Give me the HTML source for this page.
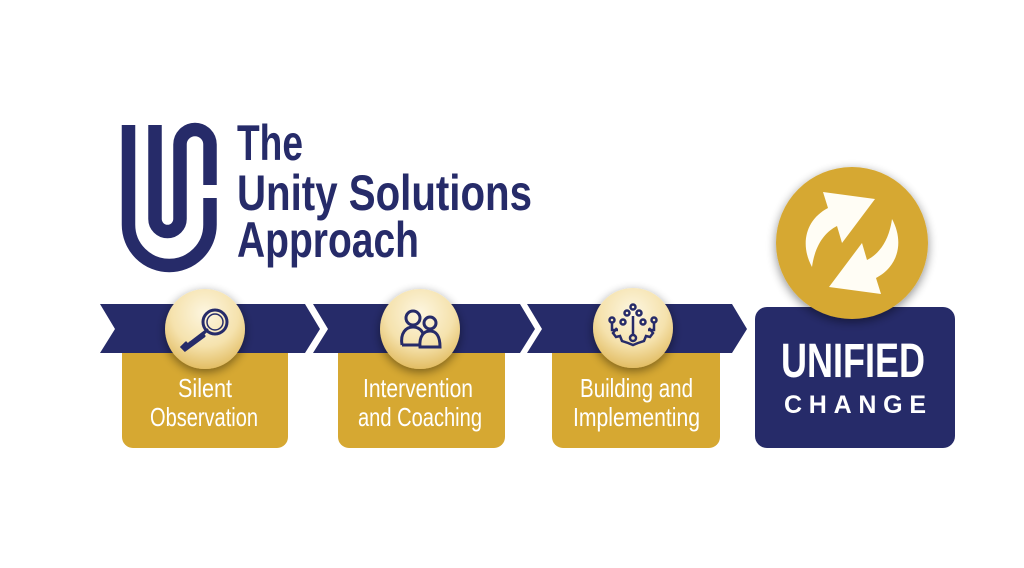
<!DOCTYPE html>
<html><head><meta charset="utf-8"><style>
html,body{margin:0;padding:0;background:#fff;}
svg{display:block;}
</style></head><body>
<svg width="1024" height="568" viewBox="0 0 1024 568" xmlns="http://www.w3.org/2000/svg">
<defs>
<radialGradient id="cg" cx="0.5" cy="0.3" r="0.7">
<stop offset="0" stop-color="#fdf6e0"/><stop offset="0.6" stop-color="#f5e2ad"/><stop offset="1" stop-color="#e2bd64"/>
</radialGradient>
<filter id="sh" x="-40%" y="-40%" width="180%" height="180%"><feGaussianBlur in="SourceAlpha" stdDeviation="5"/><feOffset dy="3"/><feComponentTransfer><feFuncA type="linear" slope="0.45"/></feComponentTransfer><feMerge><feMergeNode/><feMergeNode in="SourceGraphic"/></feMerge></filter>
</defs>
<rect width="1024" height="568" fill="#fff"/>
<!-- logo -->
<g fill="none" stroke="#262b69" stroke-width="13.5">
<path d="M128.5 125 V224.75 A40.75 40.75 0 0 0 210 224.75 V198"/>
<path d="M155 125 V219 A12.5 12.5 0 0 0 180 219 V144.5 A15 15 0 0 1 210 144.5 V185"/>
</g>
<g font-family="'Liberation Sans Narrow','Liberation Sans',sans-serif" font-weight="bold" fill="#262b69" font-size="50">
<text x="237" y="160" textLength="66" lengthAdjust="spacingAndGlyphs">The</text>
<text x="237" y="210" textLength="295" lengthAdjust="spacingAndGlyphs">Unity Solutions</text>
<text x="237" y="257" textLength="182" lengthAdjust="spacingAndGlyphs">Approach</text>
</g>
<!-- gold boxes -->
<g fill="#d6a832">
<rect x="122" y="340" width="166" height="108" rx="11"/>
<rect x="338" y="340" width="167" height="108" rx="11"/>
<rect x="552" y="340" width="168" height="108" rx="11"/>
</g>
<!-- ribbons -->
<g fill="#262b69">
<polygon points="100,304 305,304 320,329 305,353 100,353 115,329"/>
<polygon points="313,304 520,304 535,329 520,353 313,353 328,329"/>
<polygon points="527,304 732,304 747,329 732,353 527,353 542,329"/>
</g>
<!-- circles -->
<g filter="url(#sh)" fill="url(#cg)">
<circle cx="205" cy="329" r="40"/>
<circle cx="420" cy="329" r="40"/>
<circle cx="633" cy="328" r="40"/>
</g>
<!-- icon 1 magnifier -->
<g fill="none" stroke="#262b69" stroke-width="3" stroke-linecap="round">
<circle cx="215" cy="322" r="12"/>
<circle cx="215" cy="322" r="8" stroke-width="1.5"/>
<path d="M206 331 L185 347 M190 343 L188 346"/>
<path d="M207 330 L203 334 M186 343 L182 347 L185 350 L204 336"/>
</g>
<!-- icon 2 people -->
<g fill="none" stroke="#262b69" stroke-width="3">
<circle cx="413" cy="318" r="7"/>
<circle cx="430" cy="323" r="6"/>
<path d="M402 345 C400 333,406 327,413 327 C418 327,422 330,423 334"/>
<path d="M402 345 L421 345"/>
<path d="M420 347 C419 336,424 331,430 331 C436 331,440 336,440 347 Z"/>
</g>
<!-- icon 3 gear -->
<g fill="none" stroke="#262b69" stroke-width="2.5">
<circle cx="633" cy="307" r="2.5"/><circle cx="627" cy="313" r="2.5"/><circle cx="639" cy="313" r="2.5"/>
<circle cx="612" cy="320" r="2.5"/><circle cx="654" cy="320" r="2.5"/>
<circle cx="623" cy="322" r="2.5"/><circle cx="643" cy="322" r="2.5"/>
<circle cx="633" cy="338" r="3"/>
<path d="M612 323 V330 H618 M654 323 V330 H648 M633 316 V335"/>
<path d="M617 328 L613 333 L616 337 L620 336 L622 341 L628 343 L633 345 L638 343 L644 341 L646 336 L650 337 L653 333 L649 328"/>
</g>
<!-- step text -->
<g font-family="'Liberation Sans Narrow','Liberation Sans',sans-serif" fill="#fff" font-size="26">
<text x="178" y="397" textLength="54" lengthAdjust="spacingAndGlyphs">Silent</text>
<text x="150" y="426" textLength="108" lengthAdjust="spacingAndGlyphs">Observation</text>
<text x="363" y="397" textLength="110" lengthAdjust="spacingAndGlyphs">Intervention</text>
<text x="358" y="426" textLength="124" lengthAdjust="spacingAndGlyphs">and Coaching</text>
<text x="580" y="397" textLength="113" lengthAdjust="spacingAndGlyphs">Building and</text>
<text x="573" y="426" textLength="127" lengthAdjust="spacingAndGlyphs">Implementing</text>
</g>
<!-- unified box -->
<rect x="755" y="307" width="200" height="141" rx="12" fill="#262b69"/>
<g font-family="'Liberation Sans Narrow','Liberation Sans',sans-serif" font-weight="bold" fill="#fff">
<text x="781" y="377" font-size="48" textLength="144" lengthAdjust="spacingAndGlyphs">UNIFIED</text>
<text x="784" y="413" font-size="25" textLength="142" lengthAdjust="spacing">CHANGE</text>
</g>
<circle cx="852" cy="243" r="76" fill="#d6a832" filter="url(#sh)"/>
<g fill="#fffdf5">
<path d="M812 267 C 800 245, 805 220, 828 208 L 823 192 L 875 199 L 842 243 L 837 226 C 825 232, 815 245, 812 267 Z"/>
<path transform="rotate(180 852 243)" d="M812 267 C 800 245, 805 220, 828 208 L 823 192 L 875 199 L 842 243 L 837 226 C 825 232, 815 245, 812 267 Z"/>
</g>
</svg>
</body></html>
